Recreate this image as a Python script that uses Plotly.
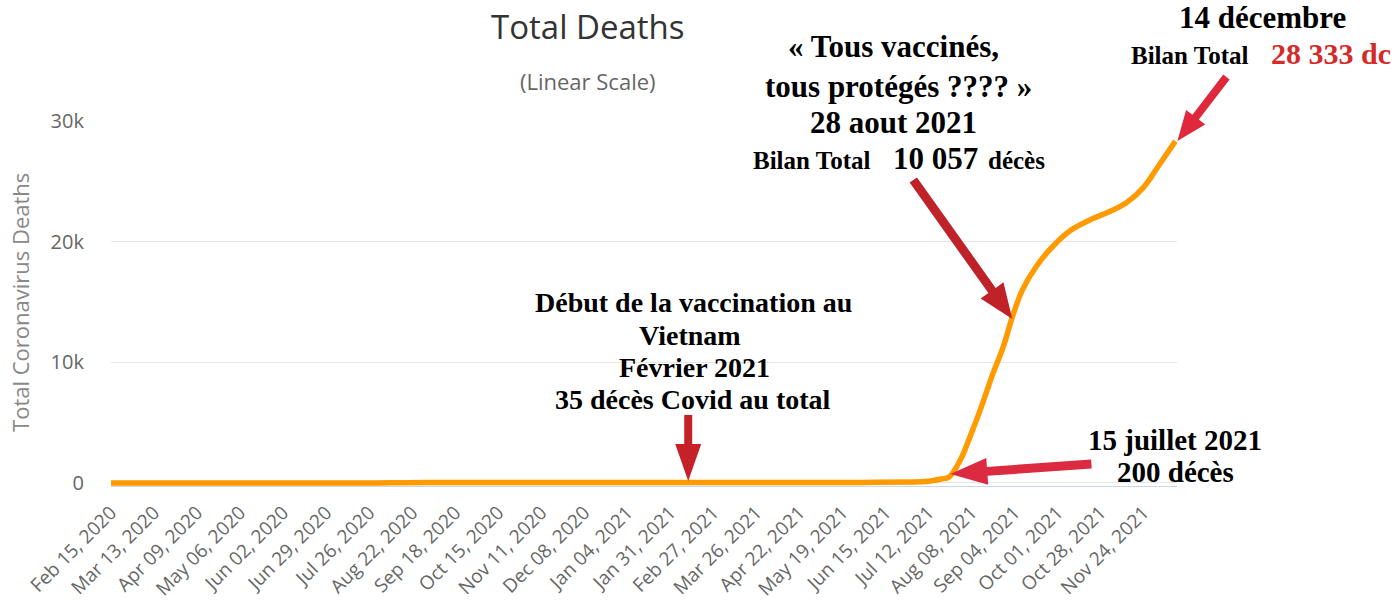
import math
import plotly.graph_objects as go

# ---------------- data ----------------
dates = ["2020-02-15", "2020-07-30", "2020-08-15", "2020-08-31", "2020-09-30",
         "2021-04-30", "2021-05-31", "2021-06-30", "2021-07-10", "2021-07-15",
         "2021-07-20", "2021-07-25", "2021-08-01", "2021-08-07", "2021-08-15",
         "2021-08-21", "2021-08-28", "2021-09-03", "2021-09-09", "2021-09-18",
         "2021-09-28", "2021-10-10", "2021-10-23", "2021-11-01", "2021-11-13",
         "2021-11-24", "2021-12-04", "2021-12-14"]
total_deaths = [0, 0, 20, 34, 35,
                35, 47, 85, 115, 200,
                330, 500, 1900, 3800, 6600,
                8900, 11300, 13900, 16000, 18000,
                19600, 21000, 21900, 22400, 23200,
                24500, 26400, 28333]

tick_dates = ["2020-02-15", "2020-03-13", "2020-04-09", "2020-05-06", "2020-06-02",
              "2020-06-29", "2020-07-26", "2020-08-22", "2020-09-18", "2020-10-15",
              "2020-11-11", "2020-12-08", "2021-01-04", "2021-01-31", "2021-02-27",
              "2021-03-26", "2021-04-22", "2021-05-19", "2021-06-15", "2021-07-12",
              "2021-08-08", "2021-09-04", "2021-10-01", "2021-10-28", "2021-11-24"]
tick_labels = ["Feb 15, 2020", "Mar 13, 2020", "Apr 09, 2020", "May 06, 2020", "Jun 02, 2020",
               "Jun 29, 2020", "Jul 26, 2020", "Aug 22, 2020", "Sep 18, 2020", "Oct 15, 2020",
               "Nov 11, 2020", "Dec 08, 2020", "Jan 04, 2021", "Jan 31, 2021", "Feb 27, 2021",
               "Mar 26, 2021", "Apr 22, 2021", "May 19, 2021", "Jun 15, 2021", "Jul 12, 2021",
               "Aug 08, 2021", "Sep 04, 2021", "Oct 01, 2021", "Oct 28, 2021", "Nov 24, 2021"]
y_ticks = [0, 10000, 20000, 30000]
y_tick_labels = ["0", "10k", "20k", "30k"]

# ---------------- geometry (page pixels) ----------------
W_FIG, H_FIG = 1397, 607
L, T = 111, 121            # plot area top-left
PW = 1065.6
PH = 365.0
BOT = T + PH
MR = W_FIG - L - PW
MB = H_FIG - T - PH


def px(x):
    return (x - L) / PW


def py(y):
    return (BOT - y) / PH


fig = go.Figure()
fig.add_trace(go.Scatter(
    x=dates, y=total_deaths, mode="lines",
    line=dict(color="#FF9A00", width=5.5, shape="spline", smoothing=1.0),
    hoverinfo="x+y", showlegend=False,
))

sans = "Open Sans, Noto Sans, sans-serif"
serif = "Liberation Serif, Times New Roman, serif"

fig.update_layout(
    width=W_FIG, height=H_FIG,
    margin=dict(l=L, r=MR, t=T, b=MB, pad=0, autoexpand=False),
    paper_bgcolor="white", plot_bgcolor="white",
    xaxis=dict(
        type="date", range=["2020-02-15", "2021-12-15"], automargin=False,
        tickvals=tick_dates, ticktext=tick_labels, tickangle=-45,
        tickfont=dict(family=sans, size=19, color="#666666"),
        showgrid=False, showline=True, linecolor="#ccd6eb", linewidth=1,
        ticks="", ticklabelstandoff=7, zeroline=False,
    ),
    yaxis=dict(
        range=[-250, 30000], tickvals=y_ticks, ticktext=y_tick_labels, automargin=False,
        tickfont=dict(family=sans, size=20, color="#666666"),
        showgrid=True, gridcolor="#e6e6e6", gridwidth=1,
        zeroline=False, showline=False, ticks="", ticklabelstandoff=26,
    ),
)

ann = []


def txt(text, x, y, size, family=serif, color="#000000", bold=True, angle=0):
    t = f"<b>{text}</b>" if bold else text
    ann.append(dict(text=t, x=px(x), y=py(y), xref="paper", yref="paper",
                    xanchor="center", yanchor="middle", showarrow=False,
                    textangle=angle,
                    font=dict(family=family, size=size, color=color)))


# titles
txt("Total Deaths", 588, 27, 33, family=sans, color="#333333", bold=False)
txt("(Linear Scale)", 588, 81, 22, family=sans, color="#666666", bold=False)
txt("Total Coronavirus Deaths", 20, 302, 22, family=sans, color="#888888", bold=False, angle=-90)

# annotation block 1
txt("« Tous vaccinés,", 893, 47, 31)
txt("tous protégés ???? »", 898, 86, 31)
txt("28 aout 2021", 893, 123, 31)
txt("Bilan Total", 811, 160, 25)
txt("10 057", 935, 158, 31)
txt("décès", 1016, 160, 25)

# annotation block 2
txt("14 décembre", 1262, 18, 31)
txt("Bilan Total", 1189, 56, 25)
ann.append(dict(text="<b>28 333 dc</b>", x=px(1269), y=py(54), xref="paper", yref="paper",
                xanchor="left", yanchor="middle", showarrow=False,
                font=dict(family=serif, size=30, color="#d42a2a")))

# annotation block 3
txt("Début de la vaccination au", 693, 302, 28)
txt("Vietnam", 690, 335, 28)
txt("Février 2021", 694, 367, 28)
txt("35 décès Covid au total", 693, 399, 28)

# annotation block 4
txt("15 juillet 2021", 1175, 440, 29)
txt("200 décès", 1175, 472, 29)

fig.update_layout(annotations=ann)


def arrow(x0, y0, x1, y1, sw, hl, hw, color):
    dx, dy = x1 - x0, y1 - y0
    ln = math.hypot(dx, dy)
    ux, uy = dx / ln, dy / ln
    nx, ny = -uy, ux
    bx, by = x1 - ux * hl, y1 - uy * hl
    pts = [
        (x0 + nx * sw / 2, y0 + ny * sw / 2),
        (bx + nx * sw / 2, by + ny * sw / 2),
        (bx + nx * hw / 2, by + ny * hw / 2),
        (x1, y1),
        (bx - nx * hw / 2, by - ny * hw / 2),
        (bx - nx * sw / 2, by - ny * sw / 2),
        (x0 - nx * sw / 2, y0 - ny * sw / 2),
    ]
    path = "M " + " L ".join(f"{px(a):.5f},{py(b):.5f}" for a, b in pts) + " Z"
    fig.add_shape(type="path", path=path, xref="paper", yref="paper",
                  fillcolor=color, line=dict(width=0), layer="above")


arrow(688, 415, 688, 481, 8, 37, 26, "#c42228")
arrow(913, 180, 1012, 319, 9, 35, 28, "#c0222a")
arrow(1226, 77, 1177, 141, 8, 30, 24, "#e0283c")
arrow(1091, 464, 950, 474, 9, 37, 27, "#dc2a40")

fig.write_html(
    "out.html",
    config={"displayModeBar": False},
    post_script="document.body.style.margin='0px';document.body.style.overflow='hidden';",
)
